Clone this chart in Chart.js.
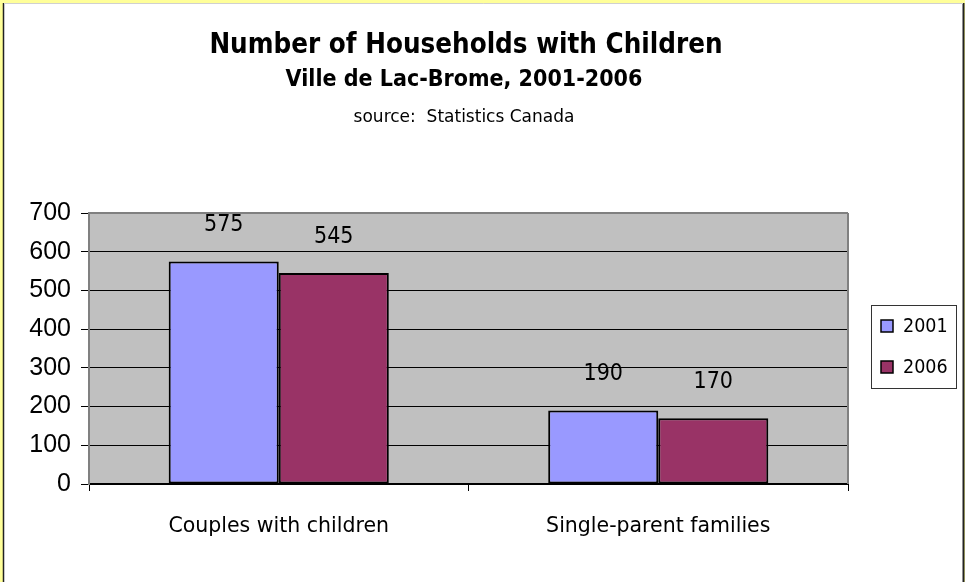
<!DOCTYPE html>
<html><head><meta charset="utf-8">
<script src="https://cdn.jsdelivr.net/npm/chart.js@4.4.1/dist/chart.umd.min.js"></script>
<style>html,body{margin:0;padding:0;background:#fff;}canvas{display:block;}</style>
</head><body>
<canvas id="c" width="965" height="582"></canvas>
<script>
const categories = ['Couples with children', 'Single-parent families'];
const seriesLabels = ['2001', '2006'];
const values2001 = [575, 190];
const values2006 = [545, 170];
const yTicks = [0, 100, 200, 300, 400, 500, 600, 700];
const titleText = 'Number of Households with Children';
const subtitleText = 'Ville de Lac-Brome, 2001-2006';
const sourceText = 'source:  Statistics Canada';

const CFONT = '"DejaVu Sans Condensed", "DejaVu Sans", sans-serif';
const NFONT = '"DejaVu Sans", sans-serif';
const seriesColors = ['#9999FF', '#993366'];

const framePlugin = {
  id: 'frame',
  beforeDraw(chart) {
    const c = chart.ctx, a = chart.chartArea;
    c.save();
    c.fillStyle = '#FFFF99';
    c.fillRect(0, 0, chart.width, chart.height);
    c.fillStyle = '#FFFFFF';
    c.fillRect(4, 4, 959, chart.height);
    c.strokeStyle = '#222';
    c.lineWidth = 1.5;
    c.beginPath(); c.moveTo(3.5, 3); c.lineTo(3.5, chart.height); c.stroke();
    c.lineWidth = 2;
    c.beginPath(); c.moveTo(963.5, 3); c.lineTo(963.5, chart.height); c.stroke();
    c.strokeStyle = '#D0D0D0'; c.lineWidth = 1;
    c.beginPath(); c.moveTo(4, 3.5); c.lineTo(963, 3.5); c.stroke();
    c.fillStyle = '#C0C0C0';
    c.fillRect(a.left, a.top, a.right - a.left, a.bottom - a.top);
    c.restore();
  },
  afterDraw(chart) {
    const c = chart.ctx, a = chart.chartArea;
    c.save();
    c.strokeStyle = '#808080'; c.lineWidth = 2;
    c.beginPath(); c.moveTo(a.right, a.top); c.lineTo(a.right, a.bottom); c.stroke();
    c.beginPath(); c.moveTo(a.left, a.top); c.lineTo(a.right, a.top); c.stroke();
    // titles
    c.fillStyle = '#000';
    c.textAlign = 'center';
    c.textBaseline = 'alphabetic';
    c.font = 'bold 27.5px ' + CFONT;
    c.fillText(titleText, 466, 53);
    c.font = 'bold 23px ' + CFONT;
    c.fillText(subtitleText, 464, 86);
    c.font = '17px ' + NFONT;
    c.fillText(sourceText, 464, 122);
    // legend
    c.fillStyle = '#FFFFFF';
    c.fillRect(871, 305, 86, 84);
    c.strokeStyle = '#333'; c.lineWidth = 1;
    c.strokeRect(871.5, 305.5, 85, 83);
    const ys = [326, 367];
    chart.data.datasets.forEach((ds, i) => {
      c.fillStyle = ds.backgroundColor;
      c.fillRect(881, ys[i] - 6, 12, 12);
      c.strokeStyle = '#000'; c.lineWidth = 1.5;
      c.strokeRect(881, ys[i] - 6, 12, 12);
      c.fillStyle = '#000';
      c.textAlign = 'left'; c.textBaseline = 'middle';
      c.font = '19.5px ' + CFONT;
      c.fillText(ds.label, 903, ys[i] + 1);
    });
    c.restore();
  },
  afterDatasetsDraw(chart) {
    const c = chart.ctx;
    c.save();
    c.fillStyle = '#000';
    c.textAlign = 'center'; c.textBaseline = 'middle';
    c.font = '23px ' + CFONT;
    chart.data.datasets.forEach((ds, i) => {
      chart.getDatasetMeta(i).data.forEach((el, j) => {
        c.fillText(String(ds.data[j]), el.x, el.y - 36);
      });
    });
    c.restore();
  }
};

new Chart(document.getElementById('c'), {
  type: 'bar',
  data: {
    labels: categories,
    datasets: [
      { label: seriesLabels[0], data: values2001, backgroundColor: seriesColors[0] },
      { label: seriesLabels[1], data: values2006, backgroundColor: seriesColors[1] }
    ]
  },
  options: {
    responsive: false,
    animation: false,
    devicePixelRatio: 1,
    layout: { padding: { left: 0, right: 117, top: 213, bottom: 0 } },
    datasets: {
      bar: {
        categoryPercentage: 0.58,
        barPercentage: 1.0,
        borderColor: '#000',
        borderWidth: 2,
        borderSkipped: false
      }
    },
    plugins: { legend: { display: false }, title: { display: false }, tooltip: { enabled: false } },
    scales: {
      x: {
        offset: true,
        grid: { offset: true, drawOnChartArea: false, drawTicks: true, tickLength: 7, color: '#000', lineWidth: 1 },
        border: { color: '#000', width: 2 },
        ticks: { color: '#000', font: { family: NFONT, size: 20.5 }, padding: 23 },
        afterFit(s) { s.height = 98; }
      },
      y: {
        min: 0, max: 700,
        afterBuildTicks(s) { s.ticks = yTicks.map(v => ({ value: v })); },
        grid: {
          color: ctx => (ctx.tick && ctx.tick.value === 700) ? '#808080' : '#000',
          tickColor: '#000',
          tickLength: 8, lineWidth: 1
        },
        border: { color: '#808080', width: 2 },
        ticks: { color: '#000', font: { family: '"Liberation Sans", Arial, sans-serif', size: 25 }, padding: 10 },
        afterFit(s) { s.width = 89; }
      }
    }
  },
  plugins: [framePlugin]
});
</script>
</body></html>
